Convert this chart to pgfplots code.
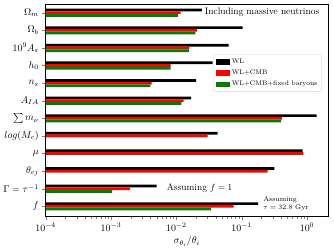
\documentclass[border=0pt]{standalone}
\usepackage{pgfplots}
\pgfplotsset{compat=1.18}
\definecolor{mplred}{RGB}{255,0,0}
\definecolor{mplgreen}{RGB}{0,128,0}
\begin{document}
\begin{tikzpicture}
\begin{axis}[
  scale only axis, width=285.6pt, height=215pt,
  xmode=log, xmin=1e-4, xmax=2.1, log origin x=infty,
  ymin=-0.58, ymax=11.5,
  ytick={0,1,2,3,4,5,6,7,8,9,10,11},
  yticklabels={$f$, $\Gamma=\tau^{-1}$, $\theta_{ej}$, $\mu$, $log(M_c)$, $\sum m_\nu$, $A_{IA}$, $n_s$, $h_0$, $10^9A_s$, $\Omega_b$, $\Omega_m$},
  xtick={1e-4,1e-3,1e-2,1e-1,1},
  tick align=outside, xtick pos=bottom, ytick pos=left,
  major tick length=3.5pt, minor tick length=2pt,
  xlabel={$\sigma_{\theta_i}/\theta_i$},
  xlabel style={yshift=2pt},
  xbar, bar width=0.155,
  legend style={at={(0.978,0.763)}, anchor=north east, draw=black!15, rounded corners=2pt,
    font=\fontsize{6.7}{7.5}\selectfont, row sep=1pt, inner sep=2.5pt, cells={anchor=west}},
]
\addlegendimage{legend image code/.code={\fill[black, sharp corners] (0pt,-2.4pt) rectangle (14pt,2.4pt);}}
\addlegendentry{WL}
\addlegendimage{legend image code/.code={\fill[mplred, sharp corners] (0pt,-2.4pt) rectangle (14pt,2.4pt);}}
\addlegendentry{WL+CMB}
\addlegendimage{legend image code/.code={\fill[mplgreen, sharp corners] (0pt,-2.4pt) rectangle (14pt,2.4pt);}}
\addlegendentry{WL+CMB+fixed baryons}
% WL
\addplot[forget plot, xbar, bar shift=0.155, fill=black, draw=none] coordinates {
 (0.179,0) (0.0050,1) (0.316,2) (0.86,3) (0.043,4) (1.40,5) (0.0169,6) (0.0201,7) (0.036,8) (0.063,9) (0.103,10) (0.0245,11)};
% WL+CMB
\addplot[forget plot, xbar, bar shift=0, fill=mplred, draw=none] coordinates {
 (0.075,0) (0.00196,1) (0.25,2) (0.88,3) (0.0302,4) (0.414,5) (0.0129,6) (0.0042,7) (0.0082,8) (0.0159,9) (0.0208,10) (0.0116,11)};
% WL+CMB+fixed baryons
\addplot[forget plot, xbar, bar shift=-0.155, fill=mplgreen, draw=none] coordinates {
 (0.034,0) (0.00104,1) (0.40,5) (0.0119,6) (0.0040,7) (0.0082,8) (0.0156,9) (0.0196,10) (0.0106,11)};
\node[anchor=east, font=\fontsize{9.5}{11}\selectfont] at (rel axis cs:0.981,0.961) {Including massive neutrinos};
\node[anchor=west, font=\fontsize{9.5}{11}\selectfont] at (axis cs:0.00635,1.04) {Assuming $f=1$};
\node[anchor=west, align=left, inner sep=0pt, font=\fontsize{7}{8.3}\selectfont] at (axis cs:0.213,0.15) {Assuming\\$\tau=32.8$ Gyr};
\end{axis}
\path (current axis.north east) ++(6pt,4pt);
\end{tikzpicture}
\end{document}
